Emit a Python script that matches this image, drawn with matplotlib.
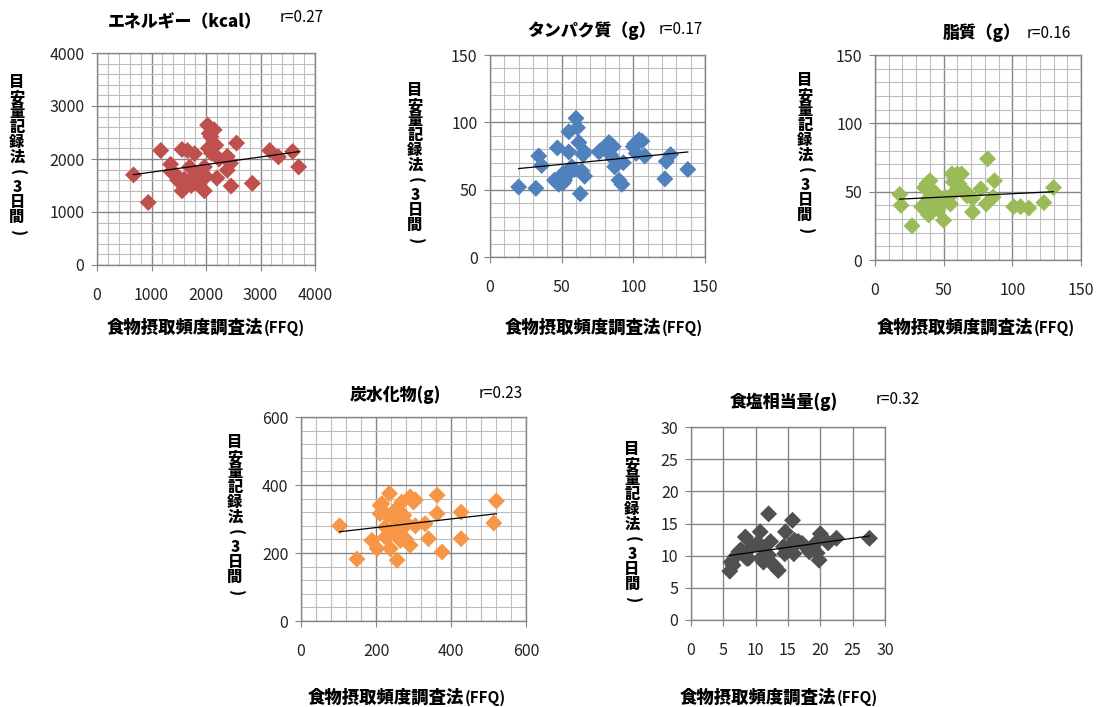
import numpy as np
import matplotlib
matplotlib.use("Agg")
import matplotlib.pyplot as plt
from matplotlib.ticker import MultipleLocator

plt.rcParams['font.family'] = ['Noto Sans CJK JP', 'DejaVu Sans']

W, H = 1099, 707

# --- data (FFQ on x, 3-day record on y) ---
energy_x = [670, 940, 1170, 1350, 1360, 1450, 1480, 1560, 1560, 1600,
            1660, 1700, 1730, 1790, 1790, 1820, 1880, 1910, 1970, 1970,
            2000, 2030, 2040, 2060, 2090, 2100, 2150, 2180, 2200, 2240,
            2390, 2390, 2450, 2460, 2560, 2850, 3170, 3330, 3590, 3700]
energy_y = [1700, 1180, 2160, 1900, 1760, 1700, 1600, 2180, 1400, 1620,
            2160, 1850, 1500, 2100, 1670, 1550, 1700, 1760, 1400, 1850,
            1670, 2640, 2200, 2480, 2420, 2110, 2550, 2260, 1640, 2000,
            2050, 1790, 1920, 1490, 2300, 1540, 2160, 2040, 2140, 1850]

protein_x = [20, 32, 34, 36, 45, 47, 48, 51, 51, 52,
             54, 55, 55, 57, 59, 60, 61, 62, 63, 64,
             65, 66, 66, 76, 77, 83, 84, 86, 86, 87,
             90, 92, 93, 100, 101, 102, 104, 106, 108, 122,
             123, 126, 138]
protein_y = [52, 51, 75, 68, 57, 81, 54, 62, 55, 57,
             61, 93, 78, 67, 65, 103, 96, 85, 47, 64,
             76, 60, 78, 78, 79, 85, 76, 82, 73, 67,
             57, 54, 70, 82, 84, 77, 87, 86, 75, 58,
             71, 76, 65]

fat_x = [18, 19, 27, 34, 35, 36, 38, 39, 39, 40,
         41, 42, 44, 45, 46, 48, 50, 51, 55, 56,
         57, 57, 60, 61, 63, 66, 67, 71, 71, 77,
         81, 82, 86, 87, 101, 106, 112, 123, 130]
fat_y = [48, 40, 25, 39, 38, 53, 56, 33, 45, 58,
         51, 36, 49, 40, 37, 43, 29, 46, 41, 63,
         49, 57, 63, 56, 63, 50, 47, 35, 45, 52,
         41, 74, 46, 58, 39, 39, 38, 42, 53]

carb_x = [103, 149, 189, 203, 211, 211, 216, 225, 225, 229,
          236, 238, 240, 247, 250, 251, 256, 260, 265, 265,
          269, 274, 280, 283, 291, 291, 300, 305, 305, 331,
          340, 363, 363, 376, 427, 427, 514, 521]
carb_y = [280, 182, 237, 213, 316, 340, 345, 276, 247, 311,
          375, 213, 262, 262, 300, 326, 179, 290, 267, 237,
          350, 311, 240, 286, 365, 223, 350, 356, 280, 286,
          242, 370, 316, 203, 320, 242, 288, 353]

salt_x = [6.0, 6.2, 6.5, 6.8, 7.4, 7.7, 8.4, 8.6, 8.9, 9.5,
          10.2, 10.7, 10.8, 11.0, 11.2, 12.0, 12.0, 12.3, 12.5, 13.0,
          13.5, 14.3, 14.5, 14.6, 15.3, 15.7, 15.9, 16.0, 16.6, 17.2,
          18.3, 19.2, 19.5, 19.8, 20.0, 21.2, 22.5, 27.6]
salt_y = [7.6, 9.0, 8.5, 9.8, 10.6, 10.9, 12.9, 9.6, 9.6, 11.5,
          11.9, 13.7, 9.6, 11.4, 9.0, 16.5, 10.1, 12.2, 8.8, 8.3,
          7.7, 11.4, 10.3, 13.7, 11.4, 15.5, 10.3, 12.4, 12.2, 11.9,
          10.6, 11.9, 10.4, 9.3, 13.4, 12.0, 12.7, 12.7]

titles = ['エネルギー（kcal）', 'タンパク質（g）', '脂質（g）', '炭水化物(g)', '食塩相当量(g)']
r_labels = ['r=0.27', 'r=0.17', 'r=0.16', 'r=0.23', 'r=0.32']
x_label = '食物摂取頻度調査法'
x_label_tail = '(FFQ)'
y_label = '目安量記録法(3日間)'

# panel layout in pixels: axes box, title pos, r pos, xlabel pos, ylabel (x centre, top)
panels = [
    dict(x=energy_x, y=energy_y, color='#C0504D', lim=4000, major=1000, minor=200,
         box=(97, 53, 315, 265), title=(108, 22), r=(280, 18), xl=(107, 328), yl=(17, 75)),
    dict(x=protein_x, y=protein_y, color='#4F81BD', lim=150, major=50, minor=10,
         box=(490, 55, 705, 257), title=(527, 31), r=(659, 29), xl=(505, 328), yl=(415, 83)),
    dict(x=fat_x, y=fat_y, color='#9BBB59', lim=150, major=50, minor=10,
         box=(875, 55, 1081, 260), title=(943, 33), r=(1027, 33), xl=(877, 328), yl=(805, 73)),
    dict(x=carb_x, y=carb_y, color='#F79646', lim=600, major=200, minor=40,
         box=(301, 417, 526, 621), title=(350, 395), r=(479, 393), xl=(308, 698), yl=(235, 435)),
    dict(x=salt_x, y=salt_y, color='#505050', lim=30, major=5, minor=None,
         box=(691, 427, 885, 620), title=(730, 402), r=(876, 400), xl=(680, 698), yl=(632, 442)),
]
char_pitch = 15


def fx(px):
    return px / W


def fy(py):
    return 1 - py / H


fig = plt.figure(figsize=(W / 100, H / 100), dpi=100)
fig.patch.set_facecolor('white')

for i, p in enumerate(panels):
    l, t, r, b = p['box']
    ax = fig.add_axes([fx(l), fy(b), (r - l) / W, (b - t) / H])
    x = np.array(p['x'], dtype=float)
    y = np.array(p['y'], dtype=float)
    ax.scatter(x, y, marker='D', s=75, color=p['color'], edgecolors='none', zorder=3)

    # linear trend line over the data range
    k, c = np.polyfit(x, y, 1)
    xs = np.array([x.min(), x.max()])
    ax.plot(xs, k * xs + c, color='black', lw=0.9, zorder=4)

    ax.set_xlim(0, p['lim'])
    ax.set_ylim(0, p['lim'])
    ax.xaxis.set_major_locator(MultipleLocator(p['major']))
    ax.yaxis.set_major_locator(MultipleLocator(p['major']))
    if p['minor']:
        ax.xaxis.set_minor_locator(MultipleLocator(p['minor']))
        ax.yaxis.set_minor_locator(MultipleLocator(p['minor']))
        ax.grid(which='minor', color='#bdbdbd', lw=0.8, zorder=0)
    ax.grid(which='major', color='#868686', lw=1.0, zorder=1)
    ax.set_axisbelow(True)

    for s in ax.spines.values():
        s.set_color('#868686')
        s.set_linewidth(1.0)
    ax.tick_params(which='minor', length=0)
    ax.tick_params(axis='y', which='major', direction='out', length=4, color='#868686',
                   pad=5, labelsize=11.5, labelcolor='#222222')
    ax.tick_params(axis='x', which='major', direction='out', length=4, color='#868686',
                   pad=12, labelsize=11.5, labelcolor='#222222')

    fig.text(fx(p['title'][0]), fy(p['title'][1]), titles[i], ha='left', va='center',
             fontsize=12.2, fontweight='heavy')
    fig.text(fx(p['r'][0]), fy(p['r'][1]), r_labels[i], ha='left', va='center',
             fontsize=11)
    xl = fig.text(fx(p['xl'][0]), fy(p['xl'][1]), x_label, ha='left', va='center',
                  fontsize=12.5, fontweight='heavy')
    # the "(FFQ)" part is set smaller, right after the main label
    fig.canvas.draw()
    bb = xl.get_window_extent()
    fig.text(bb.x1 / W, fy(p['xl'][1]), x_label_tail, ha='left', va='center',
             fontsize=11, fontweight='bold')
    # vertical y label: one character per row, brackets turned as in vertical writing
    cx, top = p['yl']
    for j, ch in enumerate(y_label):
        rot = -90 if ch in '()' else 0
        fig.text(fx(cx), fy(top + (j + 0.5) * char_pitch), ch, ha='center', va='center',
                 fontsize=11, fontweight='heavy', rotation=rot, rotation_mode='anchor')

fig.savefig('out.png', dpi=100, facecolor='white')
